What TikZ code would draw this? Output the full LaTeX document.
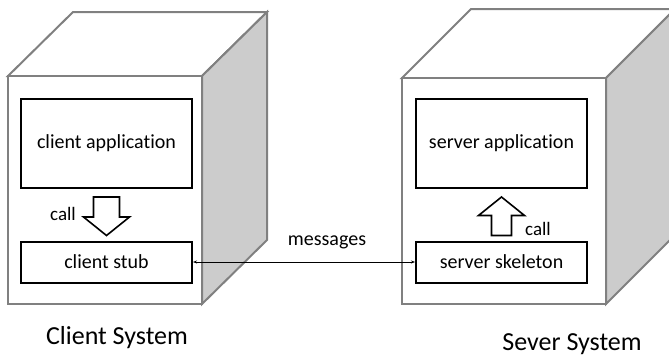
\documentclass[tikz,border=0pt]{standalone}
\usepackage{fontspec}
\setmainfont{Carlito}[Ligatures=NoCommon]
\usepackage{tikz}
\usetikzlibrary{calc,arrows.meta}
\definecolor{edgegray}{rgb}{0.5,0.5,0.5}
\definecolor{sidegray}{rgb}{0.8,0.8,0.8}

\tikzset{
  cube/.style={draw=edgegray, line width=2pt, line join=miter},
  box/.style={draw=black, line width=2pt, fill=white, inner sep=0pt,
    minimum width=171pt, font=\fontsize{20}{24}\selectfont},
  blockarrow/.style={draw=black, line width=1.6pt, fill=white, line join=miter},
  lbl/.style={font=\fontsize{19}{23}\selectfont, inner sep=0pt},
  syslbl/.style={font=\fontsize{26}{31}\selectfont, inner sep=0pt}
}

\begin{document}
\begin{tikzpicture}[x=1pt, y=-1pt]
	\clip (0,0) rectangle (669,357);
	
	%Cubo cliente
	\draw[cube, fill=white] (8,76) -- (73,12) -- (267,12) -- (202,76) -- cycle;
	\draw[cube, fill=sidegray] (202,76) -- (267,12) -- (267,240) -- (202,304) -- cycle;
	\draw[cube, fill=white] (8,76) rectangle (202,304);
	
	%Cubo servidor
	\draw[cube, fill=white] (402,78) -- (471,9) -- (675,9) -- (606,78) -- cycle;
	\draw[cube, fill=sidegray] (606,78) -- (675,9) -- (675,235) -- (606,304) -- cycle;
	\draw[cube, fill=white] (402,78) rectangle (606,304);
	
	%Caixas
	\node[box, minimum height=89pt] (capp) at (106.5,143.5) {client application};
	\node[box, minimum height=41pt] (cstub) at (106.5,262) {client stub};
	\node[box, minimum height=89pt] (sapp) at (501.5,143.5) {server application};
	\node[box, minimum height=41pt] (sskel) at (501.5,262) {server skeleton};
	
	%Setas de chamada
	\coordinate (ctop) at ($(capp.south)+(0,8)$);
	\coordinate (ctip) at ($(cstub.north)+(0,-5)$);
	\draw[blockarrow] ($(ctop)+(-13,0)$) -- ($(ctop)+(13,0)$) -- ($(ctop)+(13,20)$)
		-- ($(ctop)+(23,20)$) -- (ctip) -- ($(ctop)+(-23,20)$) -- ($(ctop)+(-13,20)$) -- cycle;
	\node[lbl] (ccall) at (63,214) {call};
	
	\coordinate (stip) at ($(sapp.south)+(0,8)$);
	\coordinate (sbot) at ($(sskel.north)+(0,-5)$);
	\draw[blockarrow] ($(sbot)+(-10,0)$) -- ($(sbot)+(10,0)$) -- ($(sbot)+(10,-20)$)
		-- ($(sbot)+(23,-20)$) -- (stip) -- ($(sbot)+(-23,-20)$) -- ($(sbot)+(-10,-20)$) -- cycle;
	\node[lbl] (scall) at (538,229) {call};
	
	%Mensagens
	\draw[{Stealth[length=4pt,width=3pt]}-{Stealth[length=4pt,width=3pt]}, line width=0.8pt]
		(cstub.east) -- (sskel.west);
	\node[lbl, font=\fontsize{20}{24}\selectfont] (msg) at (327,242) {messages};
	
	%Sistemas
	\node[syslbl] (csys) at (117,338) {Client System};
	\node[syslbl] (ssys) at (572,344) {Sever System};
\end{tikzpicture}
\end{document}
